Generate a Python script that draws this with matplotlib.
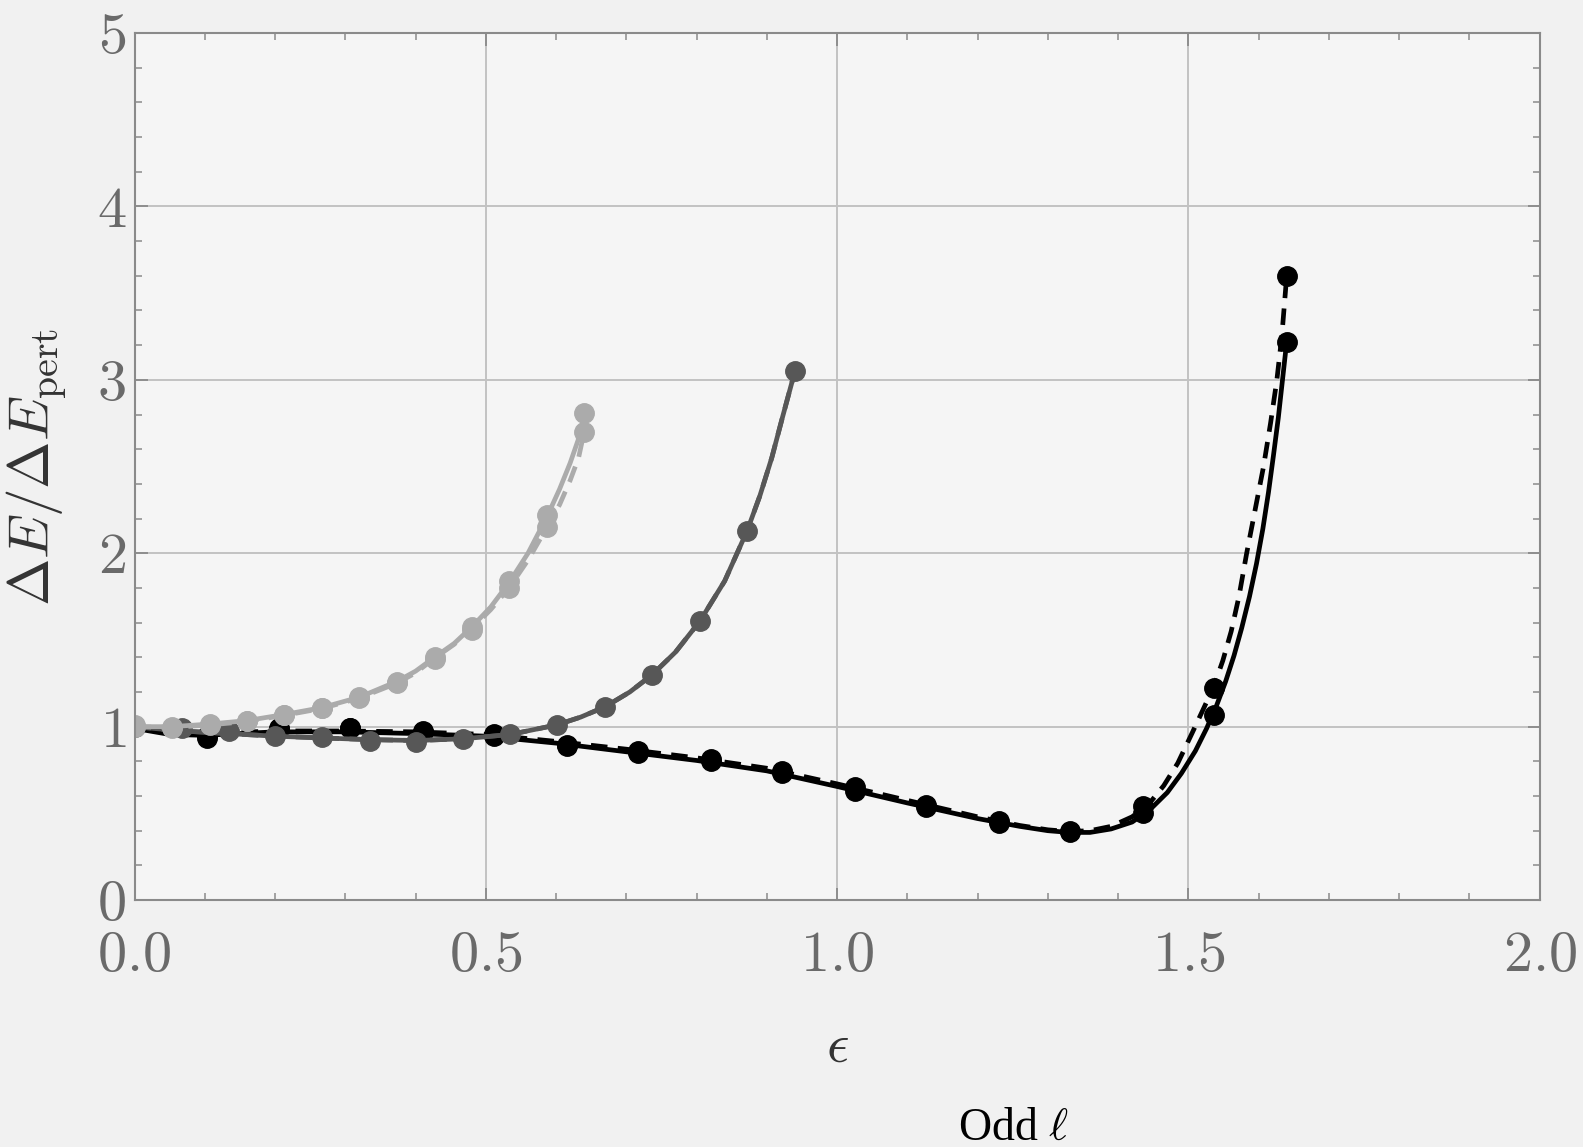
import matplotlib
matplotlib.use("Agg")
import matplotlib.pyplot as plt
from matplotlib.ticker import MultipleLocator

plt.rcParams['font.family'] = 'serif'
plt.rcParams['font.serif'] = ['cmr10', 'DejaVu Serif']
plt.rcParams['mathtext.fontset'] = 'cm'
plt.rcParams['axes.formatter.use_mathtext'] = True

# ---- data ----
# black (largest range)
blk_mx = [0.103, 0.205, 0.307, 0.41, 0.512, 0.615, 0.717, 0.82, 0.922, 1.025,
          1.127, 1.23, 1.332, 1.435, 1.537, 1.64]
blk_my = [0.937, 0.985, 0.99, 0.975, 0.948, 0.89, 0.85, 0.80, 0.73, 0.63,
          0.535, 0.447, 0.394, 0.50, 1.07, 3.22]
blk_my_d = [0.945, 0.99, 0.995, 0.97, 0.955, 0.895, 0.86, 0.815, 0.745, 0.65,
            0.55, 0.455, 0.40, 0.54, 1.22, 3.60]
blk_lx = [0, 0.05, 0.1, 0.15, 0.2, 0.3, 0.4, 0.5, 0.6, 0.7, 0.8, 0.9, 1.0, 1.1,
          1.2, 1.26, 1.3, 1.33, 1.36, 1.39, 1.42, 1.445, 1.47, 1.49, 1.51, 1.526,
          1.54, 1.553, 1.565, 1.576, 1.587, 1.597, 1.606, 1.614, 1.621, 1.628,
          1.634, 1.64]
blk_ly = [0.99, 0.955, 0.95, 0.96, 0.97, 0.97, 0.96, 0.945, 0.905, 0.855, 0.805,
          0.745, 0.655, 0.56, 0.47, 0.425, 0.40, 0.39, 0.39, 0.41, 0.45, 0.52,
          0.62, 0.73, 0.86, 0.99, 1.12, 1.26, 1.41, 1.57, 1.75, 1.94, 2.14, 2.35,
          2.56, 2.78, 3.0, 3.22]
blk_dx = [0, 0.05, 0.1, 0.2, 0.3, 0.4, 0.5, 0.6, 0.7, 0.8, 0.9, 1.0, 1.1, 1.2,
          1.26, 1.3, 1.33, 1.36, 1.39, 1.42, 1.445, 1.465, 1.485, 1.505, 1.52,
          1.536, 1.549, 1.561, 1.572, 1.583, 1.595, 1.607, 1.617, 1.626, 1.633,
          1.64]
blk_dy = [1.0, 0.965, 0.96, 0.975, 0.975, 0.97, 0.955, 0.915, 0.87, 0.82, 0.76,
          0.67, 0.575, 0.48, 0.43, 0.405, 0.395, 0.40, 0.425, 0.48, 0.56, 0.66,
          0.79, 0.96, 1.09, 1.23, 1.38, 1.55, 1.75, 2.0, 2.25, 2.5, 2.75, 3.0,
          3.25, 3.6]

# dark grey
dg_mx = [0, 0.067, 0.134, 0.2, 0.267, 0.335, 0.401, 0.468, 0.535, 0.601, 0.67,
         0.737, 0.805, 0.872, 0.94]
dg_my = [1.0, 0.99, 0.975, 0.946, 0.942, 0.92, 0.912, 0.928, 0.955, 1.01, 1.115,
         1.30, 1.61, 2.13, 3.05]
dg_lx = [0, 0.067, 0.134, 0.2, 0.267, 0.335, 0.401, 0.468, 0.535, 0.601, 0.635,
         0.67, 0.705, 0.737, 0.77, 0.805, 0.84, 0.872, 0.89, 0.907, 0.922, 0.94]
dg_ly = [1.0, 0.975, 0.96, 0.945, 0.935, 0.925, 0.92, 0.93, 0.955, 1.01, 1.055,
         1.115, 1.2, 1.30, 1.43, 1.61, 1.84, 2.13, 2.33, 2.55, 2.78, 3.05]

# light grey
lg_mx = [0, 0.053, 0.107, 0.16, 0.213, 0.267, 0.32, 0.373, 0.427, 0.48, 0.533,
         0.587, 0.64]
lg_my = [1.01, 1.0, 1.015, 1.035, 1.07, 1.11, 1.17, 1.26, 1.40, 1.575, 1.84,
         2.22, 2.81]
lg_my_d = [1.0, 0.995, 1.01, 1.03, 1.065, 1.105, 1.165, 1.25, 1.39, 1.56, 1.80,
           2.15, 2.70]
lg_lx = [0, 0.053, 0.107, 0.16, 0.213, 0.267, 0.32, 0.373, 0.4, 0.427, 0.455,
         0.48, 0.507, 0.533, 0.56, 0.587, 0.605, 0.62, 0.632, 0.64]
lg_ly = [1.0, 1.0, 1.015, 1.035, 1.07, 1.11, 1.17, 1.26, 1.32, 1.40, 1.48,
         1.575, 1.69, 1.83, 2.0, 2.21, 2.37, 2.52, 2.66, 2.80]
lg_dy = [1.0, 0.995, 1.01, 1.03, 1.065, 1.105, 1.165, 1.25, 1.31, 1.395, 1.475,
         1.565, 1.675, 1.80, 1.96, 2.15, 2.28, 2.42, 2.55, 2.70]

BLACK = '#000000'
DARK = '#575757'
LIGHT = '#ababab'

fig = plt.figure(figsize=(15.83, 11.47), dpi=100, facecolor='#f1f1f1')
ax = fig.add_axes([0.085, 0.2153, 0.8876, 0.7559], facecolor='#f5f5f5')

lw = 3.4
ms = 14
dash = (0, (3.5, 2.2))

# black
ax.plot(blk_dx, blk_dy, color=BLACK, lw=lw, ls=dash)
ax.plot(blk_lx, blk_ly, color=BLACK, lw=lw)
ax.plot(blk_mx, blk_my_d, 'o', color=BLACK, ms=ms)
ax.plot(blk_mx, blk_my, 'o', color=BLACK, ms=ms)

# dark grey
ax.plot(dg_lx, dg_ly, color=DARK, lw=lw, ls=dash)
ax.plot(dg_lx, dg_ly, color=DARK, lw=lw)
ax.plot(dg_mx, dg_my, 'o', color=DARK, ms=ms)

# light grey
ax.plot(lg_lx, lg_dy, color=LIGHT, lw=lw, ls=dash)
ax.plot(lg_lx, lg_ly, color=LIGHT, lw=lw)
ax.plot(lg_mx, lg_my_d, 'o', color=LIGHT, ms=ms)
ax.plot(lg_mx, lg_my, 'o', color=LIGHT, ms=ms)

ax.set_xlim(0, 2)
ax.set_ylim(0, 5)
ax.xaxis.set_major_locator(MultipleLocator(0.5))
ax.xaxis.set_minor_locator(MultipleLocator(0.1))
ax.yaxis.set_major_locator(MultipleLocator(1))
ax.yaxis.set_minor_locator(MultipleLocator(0.2))

ax.grid(True, which='major', color='#c2c2c2', lw=1.4)
ax.set_axisbelow(True)
for s in ax.spines.values():
    s.set_color('#8a8a8a')
    s.set_linewidth(1.5)

ax.tick_params(which='both', direction='in', top=True, right=True,
               colors='#8a8a8a', labelcolor='#6a6a6a', labelsize=42)
ax.tick_params(which='major', length=9, width=1.3)
ax.tick_params(which='minor', length=5, width=1.1)
ax.tick_params(axis='x', pad=22)
ax.tick_params(axis='y', pad=6)

ax.set_xlabel(r'$\epsilon$', fontsize=40, color='#333333', labelpad=30)
ax.set_ylabel(r'$\Delta E/\Delta E_{\rm pert}$', fontsize=41, color='#333333',
              labelpad=20)

fig.text(0.64, 0.006, r'Odd $\ell$', fontsize=33, color='black',
         family='Liberation Serif', ha='center', va='baseline')

fig.savefig('out.png', dpi=100, facecolor=fig.get_facecolor())
